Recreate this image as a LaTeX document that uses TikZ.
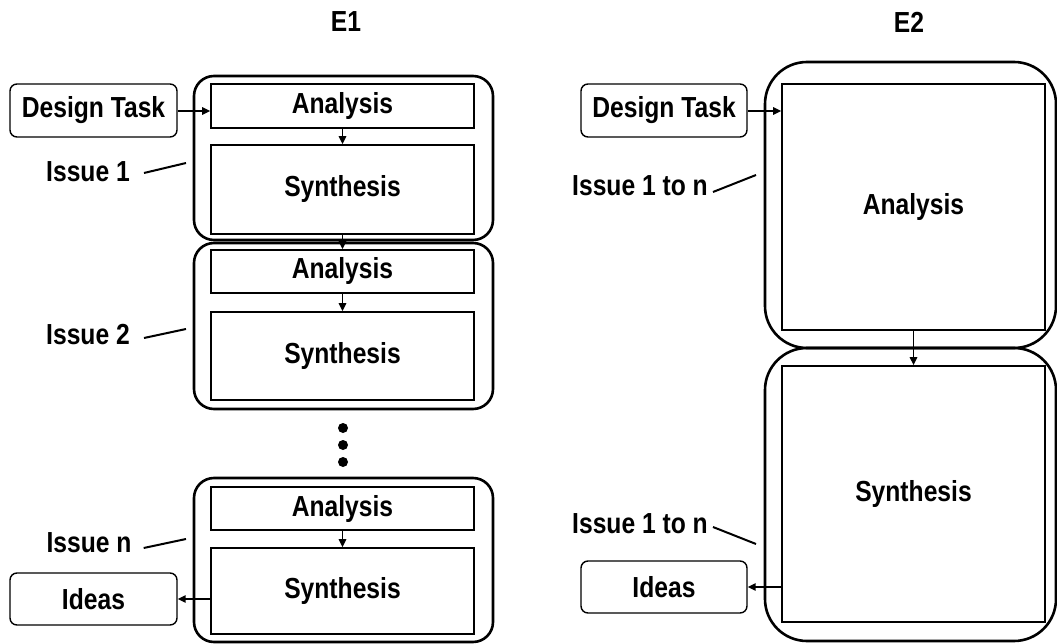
\documentclass[tikz,border=0pt]{standalone}
\usepackage{fontspec}
\setmainfont{Liberation Sans}[FakeStretch=0.85]
\usetikzlibrary{arrows.meta,positioning}

\begin{document}
\begin{tikzpicture}[x=1pt, y=-1pt, font=\bfseries\fontsize{29}{32}\selectfont,
      phase/.style={draw, line width=2.6pt, rounded corners=20pt, inner sep=0pt},
      stepbox/.style={draw, line width=1.8pt, minimum width=263pt, inner sep=0pt},
      endbox/.style={draw, line width=1.4pt, rounded corners=7pt, minimum width=167pt,
                     minimum height=53pt, inner sep=0pt},
      issue/.style={inner sep=0pt},
      flow/.style={line width=1.5pt, -{Triangle[length=8pt, width=7.5pt]}},
      lead/.style={line width=2pt}]
    \useasboundingbox (0,0) rectangle (1057,644);

    % E1: one loop per issue
    \node (t1) at (346,22) {E1};
    \node[endbox] (task1) at (93.5,110.5) {Design Task};
    \node[phase, minimum width=299pt, minimum height=164pt] (ph1) at (343.5,158) {};
    \node[stepbox, minimum height=44pt] (ana1) at (342.5,106) {Analysis};
    \node[stepbox, minimum height=89pt] (syn1) at (342.5,189.5) {Synthesis};
    \node[phase, minimum width=299pt, minimum height=166pt] (ph2) at (343.5,326) {};
    \node[stepbox, minimum height=43pt] (ana2) at (342.5,271.5) {Analysis};
    \node[stepbox, minimum height=88pt] (syn2) at (342.5,356) {Synthesis};
    \node[phase, minimum width=299pt, minimum height=164pt] (ph3) at (343.5,560) {};
    \node[stepbox, minimum height=43pt] (ana3) at (342.5,508.5) {Analysis};
    \node[stepbox, minimum height=86pt] (syn3) at (342.5,591) {Synthesis};
    \node[endbox, minimum height=52pt] (ideas1) at (93.5,599) {Ideas};
    \foreach \y in {428,445,462}
      \fill (343,\y) circle (5pt);

    \node[issue] (iss1) at (88,172) {Issue 1};
    \node[issue] (iss2) at (88,335) {Issue 2};
    \node[issue] (iss3) at (89,543) {Issue n};
    \coordinate (c1) at (186,163);
    \coordinate (c2) at (186,329);
    \coordinate (c3) at (186,539);
    \draw[lead] ([xshift=14pt,yshift=-1pt]iss1.east) -- (c1);
    \draw[lead] ([xshift=14pt,yshift=-3pt]iss2.east) -- (c2);
    \draw[lead] ([xshift=12pt,yshift=-5pt]iss3.east) -- (c3);

    \draw[flow] (task1.east |- 0,111) -- (ana1.west |- 0,111);
    \draw[flow] (ana1) -- (syn1);
    \draw[flow] (syn1) -- (ana2);
    \draw[flow] (ana2) -- (syn2);
    \draw[flow] (ana3) -- (syn3);
    \draw[flow] (syn3.west |- ideas1) -- (ideas1);

    % E2: all issues at once
    \node (t2) at (909,22) {E2};
    \node[endbox, minimum width=166pt] (task2) at (664,110.5) {Design Task};
    \node[phase, rounded corners=42pt, minimum width=291pt, minimum height=286pt] (ph4) at (910.5,205) {};
    \node[stepbox, minimum height=246pt] (ana4) at (913.5,207) {Analysis};
    \node[phase, rounded corners=42pt, minimum width=291pt, minimum height=293pt] (ph5) at (910.5,494.5) {};
    \node[stepbox, minimum height=256pt] (syn4) at (913.5,494) {Synthesis};
    \node[endbox, minimum width=166pt, minimum height=52pt] (ideas2) at (664,587) {Ideas};

    \node[issue] (iss4) at (640,186) {Issue 1 to n};
    \node[issue] (iss5) at (640,524) {Issue 1 to n};
    \coordinate (c4) at (756,175);
    \coordinate (c5) at (756,544);
    \draw[lead] ([xshift=5pt,yshift=-6pt]iss4.east) -- (c4);
    \draw[lead] ([xshift=5pt,yshift=-3pt]iss5.east) -- (c5);

    \draw[flow] (task2.east |- 0,111) -- (ana4.west |- 0,111);
    \draw[flow] (ana4) -- (syn4);
    \draw[flow] (syn4.west |- ideas2) -- (ideas2);
\end{tikzpicture}
\end{document}
